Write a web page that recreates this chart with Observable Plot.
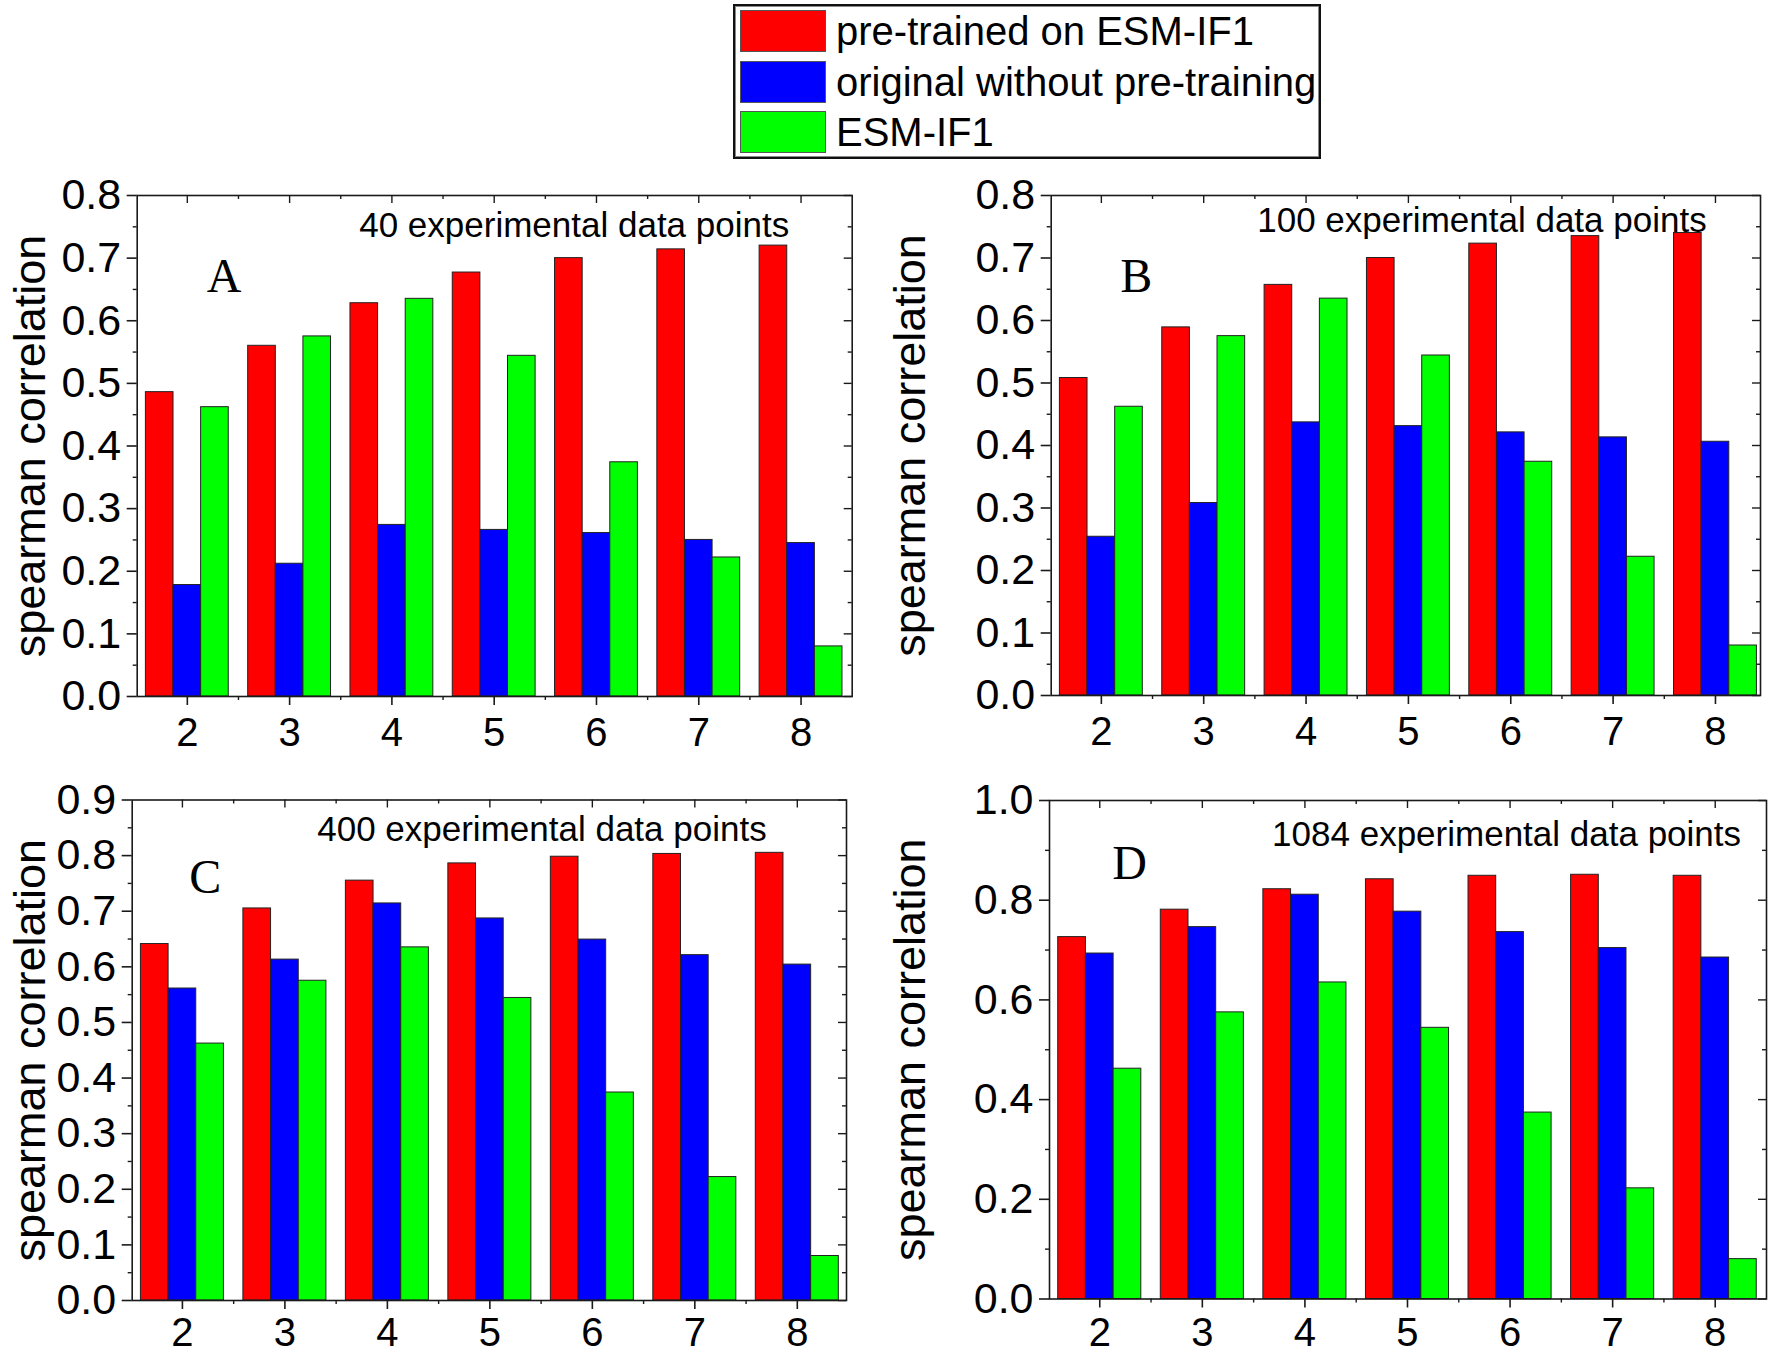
<!DOCTYPE html>
<html>
<head>
<meta charset="utf-8">
<script src="https://cdn.jsdelivr.net/npm/d3@7"></script>
<script src="https://cdn.jsdelivr.net/npm/@observablehq/plot@0.6"></script>
<style>
  body { margin: 0; background: #fff; }
  #root { position: relative; width: 1770px; height: 1355px; overflow: hidden; background: #fff;
          font-family: "Liberation Sans", Arial, sans-serif; }
  .panel { position: absolute; }
  .panel svg { max-width: none !important; }
  #legend { position: absolute; left: 733px; top: 4px; width: 584px; height: 151px;
            border: 2px solid #111; box-shadow: inset 0 0 0 1px #888; background: #fff; }
  .row { position: absolute; left: 5px; height: 44px; display: flex; align-items: center; }
  .sw { width: 86px; height: 42px; border: 1px solid #555; box-sizing: border-box; margin-right: 10px; }
  .lab { font-size: 40px; color: #000; white-space: nowrap; line-height: 1; }
</style>
</head>
<body>
<div id="root"></div>
<script>
// ---------------- data ----------------
const groups = [2, 3, 4, 5, 6, 7, 8];
const seriesNames = ["pre-trained on ESM-IF1", "original without pre-training", "ESM-IF1"];
const seriesColors = ["#ff0000", "#0000ff", "#00ff00"];

// ESM-IF1 (same in every panel)
const esmIF1 = [0.462, 0.575, 0.635, 0.544, 0.374, 0.222, 0.080];

// Panel A: 40 experimental data points
const pretrainedA = [0.486, 0.560, 0.628, 0.677, 0.700, 0.714, 0.720];
const originalA   = [0.178, 0.212, 0.274, 0.266, 0.261, 0.250, 0.245];
// Panel B: 100 experimental data points
const pretrainedB = [0.508, 0.589, 0.657, 0.700, 0.723, 0.735, 0.740];
const originalB   = [0.254, 0.308, 0.437, 0.431, 0.421, 0.413, 0.406];
// Panel C: 400 experimental data points
const pretrainedC = [0.641, 0.705, 0.755, 0.786, 0.798, 0.803, 0.805];
const originalC   = [0.561, 0.613, 0.714, 0.687, 0.649, 0.621, 0.604];
// Panel D: 1084 experimental data points
const pretrainedD = [0.726, 0.781, 0.822, 0.842, 0.849, 0.851, 0.849];
const originalD   = [0.693, 0.746, 0.811, 0.777, 0.736, 0.704, 0.685];

const yTicksA = [0.0, 0.1, 0.2, 0.3, 0.4, 0.5, 0.6, 0.7, 0.8];
const yTicksB = [0.0, 0.1, 0.2, 0.3, 0.4, 0.5, 0.6, 0.7, 0.8];
const yTicksC = [0.0, 0.1, 0.2, 0.3, 0.4, 0.5, 0.6, 0.7, 0.8, 0.9];
const yTicksD = [0.0, 0.2, 0.4, 0.6, 0.8, 1.0];

const notes = ["40 experimental data points", "100 experimental data points",
               "400 experimental data points", "1084 experimental data points"];
const letters = ["A", "B", "C", "D"];
const yLabel = "spearman correlation";

// ---------------- layout ----------------
const root = document.getElementById("root");
const FONT = "Liberation Sans, Arial, sans-serif";
const SERIF = "Liberation Serif, Times New Roman, serif";

// legend
const legend = document.createElement("div");
legend.id = "legend";
const rowTops = [3, 54, 104];
seriesNames.forEach((name, i) => {
  const row = document.createElement("div");
  row.className = "row";
  row.style.top = rowTops[i] + "px";
  const sw = document.createElement("div");
  sw.className = "sw";
  sw.style.background = seriesColors[i];
  const lab = document.createElement("div");
  lab.className = "lab";
  lab.textContent = name;
  row.appendChild(sw); row.appendChild(lab);
  legend.appendChild(row);
});
root.appendChild(legend);

function midpoints(a) { return a.slice(0, -1).map((v, i) => (v + a[i + 1]) / 2); }

function makePanel(cfg) {
  const {left, top, width, height, mL, mR, mT, mB, xMax, yTicks, pre, orig, note, noteDx, noteDy,
         letter, letDx, letDy, xPad} = cfg;
  const rows = [];
  [pre, orig, esmIF1].forEach((vals, s) => {
    vals.forEach((v, i) => rows.push({k: groups[i], s: seriesNames[s], off: (s - 1) * 0.27, v}));
  });
  const fw = width - mL - mR, fh = height - mT - mB;
  const yMinor = midpoints(yTicks);
  const xMinor = midpoints(groups);
  const stroke = "#1a1a1a";
  const chart = Plot.plot({
    width, height,
    marginLeft: mL, marginRight: mR, marginTop: mT, marginBottom: mB,
    style: {background: "transparent", fontFamily: FONT, color: "#000", overflow: "visible"},
    x: {domain: [1.51, xMax], axis: null},
    y: {domain: [yTicks[0], yTicks[yTicks.length - 1]], axis: null},
    color: {domain: seriesNames, range: seriesColors},
    marks: [
      Plot.rectY(rows, {x1: d => d.k + d.off - 0.135, x2: d => d.k + d.off + 0.135, y1: 0, y2: "v",
                        fill: "s", stroke: "#222", strokeWidth: 1}),
      Plot.frame({stroke, strokeWidth: 1.6}),
      // labelled left axis
      Plot.axisY({ticks: yTicks, anchor: "left", tickSize: 10, tickPadding: 6, tickFormat: d3.format(".1f"),
                  fontSize: 43, fontFamily: FONT, label: null, strokeWidth: 1.6, stroke}),
      // labelled bottom axis
      Plot.axisX({ticks: groups, anchor: "bottom", tickSize: 9, tickPadding: xPad, tickFormat: d3.format("d"),
                  fontSize: 40, fontFamily: FONT, label: null, strokeWidth: 1.6, stroke}),
      // minor outward ticks left / bottom
      Plot.tickY(yMinor, {y: d => d, insetRight: fw - 4, dx: -4, stroke, strokeWidth: 1.4}),
      Plot.tickX(xMinor, {x: d => d, insetTop: fh - 4, dy: 4, stroke, strokeWidth: 1.4}),
      // inward ticks top / right
      Plot.tickX(groups, {x: d => d, insetBottom: fh - 8, stroke, strokeWidth: 1.4}),
      Plot.tickX(xMinor, {x: d => d, insetBottom: fh - 4, stroke, strokeWidth: 1.4}),
      Plot.tickY(yTicks, {y: d => d, insetLeft: fw - 8, stroke, strokeWidth: 1.4}),
      Plot.tickY(yMinor, {y: d => d, insetLeft: fw - 4, stroke, strokeWidth: 1.4}),
      // y label
      Plot.text([yLabel], {text: d => d, frameAnchor: "left", rotate: -90, dx: 30 - mL,
                           textAnchor: "middle", lineAnchor: "middle", fontSize: 45, fontFamily: FONT, fill: "#000"}),
      // annotation
      Plot.text([note], {text: d => d, frameAnchor: "top-left", dx: noteDx, dy: noteDy,
                         textAnchor: "start", lineAnchor: "bottom", fontSize: 35, fontFamily: FONT, fill: "#000"}),
      // panel letter
      Plot.text([letter], {text: d => d, frameAnchor: "top-left", dx: letDx, dy: letDy,
                           textAnchor: "middle", lineAnchor: "bottom", fontSize: 48, fontFamily: SERIF, fill: "#000"})
    ]
  });
  const div = document.createElement("div");
  div.className = "panel";
  div.style.left = left + "px";
  div.style.top = top + "px";
  div.style.width = width + "px";
  div.style.height = height + "px";
  div.appendChild(chart);
  root.appendChild(div);
}

makePanel({left: 0, top: 150, width: 880, height: 610, mL: 136.7, mR: 28.3, mT: 45, mB: 64, xMax: 8.5,
           yTicks: yTicksA, pre: pretrainedA, orig: originalA, xPad: 12,
           note: notes[0], noteDx: 222, noteDy: 41, letter: letters[0], letDx: 87, letDy: 96});
makePanel({left: 880, top: 150, width: 890, height: 610, mL: 170.7, mR: 10, mT: 45, mB: 65, xMax: 8.44,
           yTicks: yTicksB, pre: pretrainedB, orig: originalB, xPad: 12,
           note: notes[1], noteDx: 206, noteDy: 36, letter: letters[1], letDx: 85, letDy: 96});
makePanel({left: 0, top: 760, width: 880, height: 595, mL: 131.7, mR: 34, mT: 39.5, mB: 55, xMax: 8.48,
           yTicks: yTicksC, pre: pretrainedC, orig: originalC, xPad: 8.5,
           note: notes[2], noteDx: 185, noteDy: 40.5, letter: letters[2], letDx: 73, letDy: 92.5});
makePanel({left: 880, top: 760, width: 890, height: 595, mL: 169, mR: 4, mT: 40, mB: 56.5, xMax: 8.5,
           yTicks: yTicksD, pre: pretrainedD, orig: originalD, xPad: 10,
           note: notes[3], noteDx: 222.6, noteDy: 45, letter: letters[3], letDx: 80, letDy: 78});
</script>
</body>
</html>
